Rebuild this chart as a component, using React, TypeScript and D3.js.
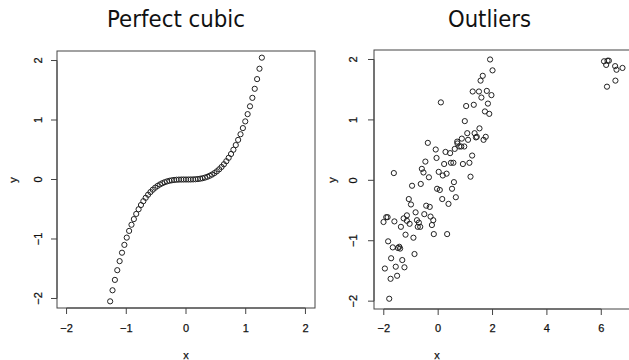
import React from "react";
import * as d3 from "d3";

// Left panel: points lying exactly on y = x^3
const cubicX = [
  -1.27, -1.2303, -1.1906, -1.1509, -1.1113, -1.0716, -1.0319, -0.9922, -0.9525, -0.9128,
  -0.8731, -0.8334, -0.7938, -0.7541, -0.7144, -0.6747, -0.635, -0.5953, -0.5556, -0.5159,
  -0.4763, -0.4366, -0.3969, -0.3572, -0.3175, -0.2778, -0.2381, -0.1984, -0.1588, -0.1191,
  -0.0794, -0.0397, 0,
  0.0397, 0.0794, 0.1191, 0.1588, 0.1984, 0.2381, 0.2778, 0.3175, 0.3572, 0.3969,
  0.4366, 0.4763, 0.5159, 0.5556, 0.5953, 0.635, 0.6747, 0.7144, 0.7541, 0.7938,
  0.8334, 0.8731, 0.9128, 0.9525, 0.9922, 1.0319, 1.0716, 1.1113, 1.1509, 1.1906,
  1.2303, 1.27,
];
const cubicY = [
  -2.048, -1.8622, -1.6877, -1.5245, -1.3724, -1.2305, -1.0988, -0.9768, -0.8642, -0.7605,
  -0.6656, -0.5788, -0.5002, -0.4288, -0.3646, -0.3071, -0.256, -0.211, -0.1715, -0.1373,
  -0.1081, -0.0832, -0.0625, -0.0456, -0.032, -0.0214, -0.0135, -0.0078, -0.004, -0.0017,
  -0.0005, -0.0001, 0,
  0.0001, 0.0005, 0.0017, 0.004, 0.0078, 0.0135, 0.0214, 0.032, 0.0456, 0.0625,
  0.0832, 0.1081, 0.1373, 0.1715, 0.211, 0.256, 0.3071, 0.3646, 0.4288, 0.5002,
  0.5788, 0.6656, 0.7605, 0.8642, 0.9768, 1.0988, 1.2305, 1.3724, 1.5245, 1.6877,
  1.8622, 2.048,
];

// Right panel: a noisy linear cloud plus a cluster of outliers far to the right
const outlierX = [
  1.91, 2.0, 1.64, 1.56, 1.27, 1.5, 1.79, 1.59, 1.96, 1.31,
  1.83, 0.1, 1.03, 1.72, 1.88, 0.98, 1.52, 1.34, 1.07, 1.42,
  1.39, 1.75, 1.67, 1.1, 0.87, 0.7, 0.71, 0.78, 0.85, 0.96,
  0.61, -0.38, -0.09, 0.27, 0.44, 1.25, -0.06, -0.47, 0.22, 0.47,
  0.56, 0.91, 1.15, -0.6, -0.54, 0.02, 0.17, 0.31, 1.19, -1.63,
  -0.34, -0.64, -0.96, 0.58, -0.04, 0.06, 0.51, 0.65, 0.15, 0.38,
  -1.08, -1.0, -0.44, -0.31, -0.83, -0.51, -1.15, -1.91, -1.86, -1.27,
  -0.28, -2.01, -1.61, -1.15, -1.05, -0.78, -0.71, -0.75, -0.66, -0.18,
  -0.23, -1.37, -1.2, -0.91, -0.16, 0.33, -1.84, -1.67, -1.43, -1.48,
  -1.4, -0.87, -1.73, -1.32, -1.96, -1.56, -1.24, -1.51, -1.75, -1.8,
  6.1, 6.23, 6.28, 6.18, 6.51, 6.56, 6.78, 6.21, 6.52,
];
const outlierY = [
  2.0, 1.82, 1.73, 1.65, 1.47, 1.47, 1.48, 1.37, 1.41, 1.25,
  1.27, 1.29, 1.23, 1.14, 1.1, 0.98, 0.86, 0.78, 0.78, 0.72,
  0.71, 0.72, 0.67, 0.67, 0.69, 0.64, 0.61, 0.56, 0.56, 0.56,
  0.52, 0.62, 0.51, 0.47, 0.45, 0.41, 0.37, 0.31, 0.27, 0.29,
  0.29, 0.27, 0.29, 0.19, 0.13, 0.14, 0.08, 0.11, 0.06, 0.12,
  0.05, -0.06, -0.09, -0.03, -0.14, -0.16, -0.14, -0.28, -0.31, -0.39,
  -0.31, -0.4, -0.42, -0.44, -0.53, -0.56, -0.58, -0.61, -0.61, -0.63,
  -0.6, -0.69, -0.68, -0.67, -0.72, -0.66, -0.7, -0.77, -0.77, -0.66,
  -0.74, -0.77, -0.9, -0.95, -0.89, -0.89, -1.01, -1.11, -1.1, -1.12,
  -1.13, -1.22, -1.29, -1.32, -1.46, -1.43, -1.44, -1.58, -1.63, -1.96,
  1.97, 1.98, 1.98, 1.91, 1.89, 1.83, 1.86, 1.55, 1.65,
];

const cubicXTicks = [-2, -1, 0, 1, 2];
const cubicYTicks = [-2, -1, 0, 1, 2];
const outlierXTicks = [-2, 0, 2, 4, 6];
const outlierYTicks = [-2, -1, 0, 1, 2];

const fmt = (v: number) => (v < 0 ? "\u2212" + Math.abs(v) : String(v));

type PanelProps = {
  title: string;
  titleX: number;
  titleW: number;
  xs: number[];
  ys: number[];
  xDomain: [number, number];
  yDomain: [number, number];
  xTicks: number[];
  yTicks: number[];
  box: { left: number; right: number; top: number; bottom: number };
  xLabelX: number;
  yLabelX: number;
  yTickLabelX: number;
};

function Panel(p: PanelProps) {
  const x = d3.scaleLinear().domain(p.xDomain).range([p.box.left, p.box.right]);
  const y = d3.scaleLinear().domain(p.yDomain).range([p.box.bottom, p.box.top]);
  const axisColor = "#444";
  const tickLen = 6;
  const labelFont = "'Liberation Sans', Arial, sans-serif";
  const labelStyle = {
    fontFamily: labelFont,
    fontSize: 11,
    fill: "#111",
    stroke: "#111",
    strokeWidth: 0.25,
  } as const;
  return (
    <g>
      <text
        x={p.titleX}
        y={27}
        textAnchor="middle"
        fontFamily="'DejaVu Sans', sans-serif"
        fontSize={23}
        textLength={p.titleW}
        lengthAdjust="spacingAndGlyphs"
        fill="#111"
      >
        {p.title}
      </text>
      <rect
        x={p.box.left}
        y={p.box.top}
        width={p.box.right - p.box.left}
        height={p.box.bottom - p.box.top}
        fill="none"
        stroke={axisColor}
        strokeWidth={1}
      />
      {/* x axis */}
      <line
        x1={x(p.xTicks[0])}
        x2={x(p.xTicks[p.xTicks.length - 1])}
        y1={p.box.bottom}
        y2={p.box.bottom}
        stroke={axisColor}
      />
      {p.xTicks.map((t) => (
        <g key={"xt" + t}>
          <line x1={x(t)} x2={x(t)} y1={p.box.bottom} y2={p.box.bottom + tickLen} stroke={axisColor} />
          <text x={x(t)} y={328} textAnchor="middle" dominantBaseline="central" style={labelStyle}>
            {fmt(t)}
          </text>
        </g>
      ))}
      {/* y axis */}
      <line
        x1={p.box.left}
        x2={p.box.left}
        y1={y(p.yTicks[0])}
        y2={y(p.yTicks[p.yTicks.length - 1])}
        stroke={axisColor}
      />
      {p.yTicks.map((t) => (
        <g key={"yt" + t}>
          <line x1={p.box.left} x2={p.box.left - tickLen} y1={y(t)} y2={y(t)} stroke={axisColor} />
          <text
            transform={`translate(${p.yTickLabelX},${y(t)}) rotate(-90)`}
            textAnchor="middle"
            dominantBaseline="central"
            style={labelStyle}
          >
            {fmt(t)}
          </text>
        </g>
      ))}
      <text x={p.xLabelX} y={355} textAnchor="middle" dominantBaseline="central" style={labelStyle}>
        x
      </text>
      <text
        transform={`translate(${p.yLabelX},180) rotate(-90)`}
        textAnchor="middle"
        dominantBaseline="central"
        style={labelStyle}
      >
        y
      </text>
      {p.xs.map((v, i) => (
        <circle
          key={i}
          cx={x(v)}
          cy={y(p.ys[i])}
          r={2.6}
          fill="none"
          stroke="#222"
          strokeWidth={1}
        />
      ))}
    </g>
  );
}

export default function App() {
  return (
    <svg
      width={629}
      height={360}
      style={{ position: "absolute", left: 0, top: 0, display: "block", background: "#fff" }}
    >
      <rect width={629} height={360} fill="#fff" />
      <Panel
        title="Perfect cubic"
        titleX={176}
        titleW={138}
        xs={cubicX}
        ys={cubicY}
        xDomain={[-2.16, 2.16]}
        yDomain={[-2.16, 2.16]}
        xTicks={cubicXTicks}
        yTicks={cubicYTicks}
        box={{ left: 57, right: 315, top: 51, bottom: 308 }}
        xLabelX={186}
        yLabelX={13}
        yTickLabelX={38}
      />
      <Panel
        title="Outliers"
        titleX={489.5}
        titleW={83}
        xs={outlierX}
        ys={outlierY}
        xDomain={[-2.36, 7.13]}
        yDomain={[-2.13, 2.157]}
        xTicks={outlierXTicks}
        yTicks={outlierYTicks}
        box={{ left: 374, right: 632, top: 50, bottom: 309 }}
        xLabelX={437}
        yLabelX={332}
        yTickLabelX={353}
      />
    </svg>
  );
}
